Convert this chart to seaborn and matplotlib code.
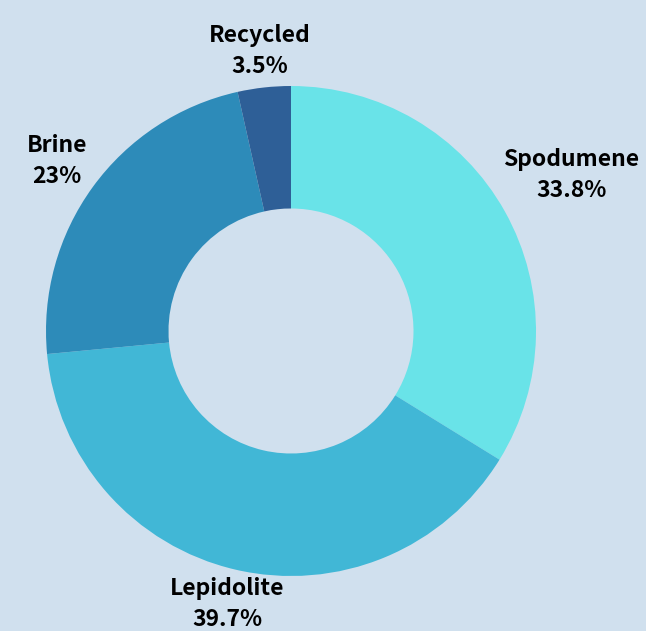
import matplotlib
matplotlib.use('Agg')
import matplotlib.pyplot as plt
import seaborn as sns
import numpy as np

sns.set_theme(style='white')
plt.rcParams['font.family'] = ['Noto Sans CJK SC', 'DejaVu Sans']

# 数据
sources = ['Spodumene', 'Lepidolite', 'Brine', 'Recycled']
shares = [33.8, 39.7, 23.0, 3.5]
pct_labels = ['33.8%', '39.7%', '23%', '3.5%']

colors = ['#69e3e8', '#41b7d6', '#2d8bb9', '#2e5f97']
bg = '#d0e0ee'
label_dist = [1.31, 1.145, 1.18, 1.15]

fig = plt.figure(figsize=(6.46, 6.31), dpi=100)
fig.patch.set_facecolor(bg)
# 圆心 (291, 331) 像素, 半径 245
W, H = 646, 631
ax = fig.add_axes([(291 - 245) / W, (H - 331 - 245) / H, 490 / W, 490 / H])
ax.set_facecolor(bg)

wedges, _ = ax.pie(shares, colors=colors, startangle=90, counterclock=False,
                   radius=1.0, wedgeprops=dict(width=0.5, linewidth=0))
ax.set_xlim(-1, 1)
ax.set_ylim(-1, 1)
ax.set_aspect('equal')
ax.axis('off')

# 标签：名称 + 百分比
for w, name, pct, d in zip(wedges, sources, pct_labels, label_dist):
    ang = np.deg2rad((w.theta1 + w.theta2) / 2)
    ax.text(d * np.cos(ang), d * np.sin(ang), f"{name}\n{pct}",
            ha='center', va='center', fontsize=16.5, fontweight='bold',
            color='#000000', linespacing=1.45, clip_on=False)

fig.savefig('out.png', dpi=100, facecolor=bg)
